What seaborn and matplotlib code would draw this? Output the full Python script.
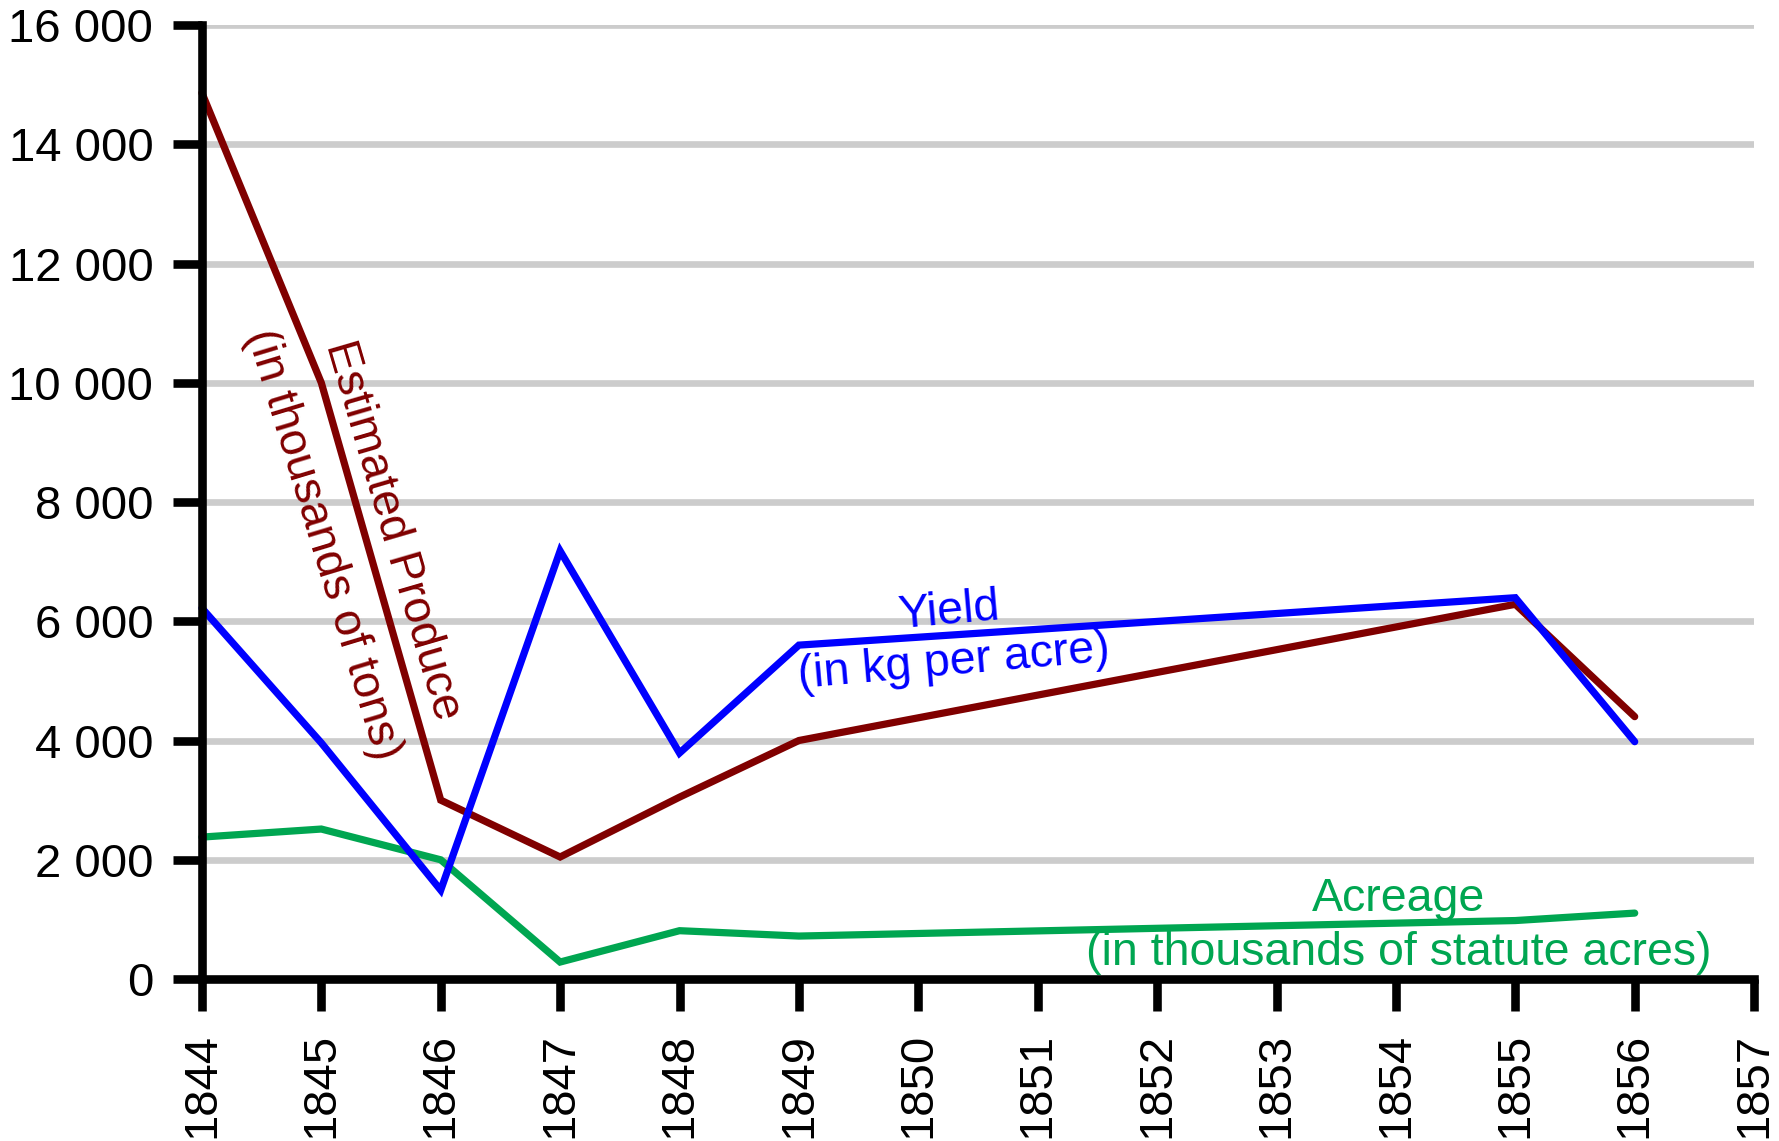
import pandas as pd
import matplotlib.pyplot as plt
import seaborn as sns

# values
years = [1844, 1845, 1846, 1847, 1848, 1849, 1855, 1856]
produce = [14862, 10000, 3000, 2046, 3050, 4000, 6285, 4400]
yield_kg = [6220, 3960, 1490, 7180, 3790, 5600, 6395, 3980]
acreage = [2380, 2515, 1999, 284, 810, 720, 980, 1105]

y_ticks = [0, 2000, 4000, 6000, 8000, 10000, 12000, 14000, 16000]
y_tick_labels = ['0', '2 000', '4 000', '6 000', '8 000', '10 000', '12 000', '14 000', '16 000']
x_ticks = list(range(1844, 1858))

series_names = ['Acreage', 'Estimated Produce', 'Yield']
colors = {'Acreage': '#00A651', 'Estimated Produce': '#800000', 'Yield': '#0000FF'}

data = pd.DataFrame({
    'Year': years * 3,
    'Value': acreage + produce + yield_kg,
    'Series': [s for s in series_names for _ in years],
})

sns.set_style('white')
plt.rcParams['font.family'] = ['Liberation Sans', 'DejaVu Sans']

fig = plt.figure(figsize=(17.79, 11.41), dpi=100)
ax = fig.add_axes([0.1135, 0.142, 0.8725, 0.836])

ax.yaxis.grid(True, color='#cccccc', linewidth=4.8, zorder=0)
ax.set_axisbelow(True)

sns.lineplot(data=data, x='Year', y='Value', hue='Series', hue_order=series_names,
             palette=colors, linewidth=5.2, legend=False, ax=ax)
for line in ax.lines:
    line.set_solid_joinstyle('miter')
    line.set_clip_on(False)

ax.set_xlim(1844, 1857)
ax.set_ylim(0, 16000)
ax.set_xticks(x_ticks)
ax.set_xticklabels([str(y) for y in x_ticks], rotation=90)
ax.set_yticks(y_ticks)
ax.set_yticklabels(y_tick_labels)
ax.set_xlabel('')
ax.set_ylabel('')

for side in ['top', 'right']:
    ax.spines[side].set_visible(False)
for side in ['left', 'bottom']:
    ax.spines[side].set_color('black')
    ax.spines[side].set_linewidth(6.2)
ax.tick_params(axis='both', which='major', direction='out', color='black',
               width=6.2, labelsize=34, labelcolor='black')
ax.tick_params(axis='y', length=21, pad=14, left=True)
ax.tick_params(axis='x', length=23, pad=16, bottom=True)

label_size = 33.5
ax.text(1845.60, 7525, 'Estimated Produce', color='#800000', fontsize=label_size,
        rotation=-73.7, rotation_mode='anchor', ha='center', va='center')
ax.text(1845.01, 7287, '(in thousands of tons)', color='#800000', fontsize=label_size,
        rotation=-73.2, rotation_mode='anchor', ha='center', va='center')
ax.text(1850.28, 5736, 'Yield\n(in kg per acre)', color='#0000FF', fontsize=label_size,
        rotation=5, rotation_mode='anchor', ha='center', va='center',
        multialignment='center', linespacing=1.22)
ax.text(1854.02, 885, 'Acreage\n(in thousands of statute acres)', color='#00A651',
        fontsize=label_size, ha='center', va='center', multialignment='center',
        linespacing=1.3)

fig.savefig('out.png', dpi=100)
